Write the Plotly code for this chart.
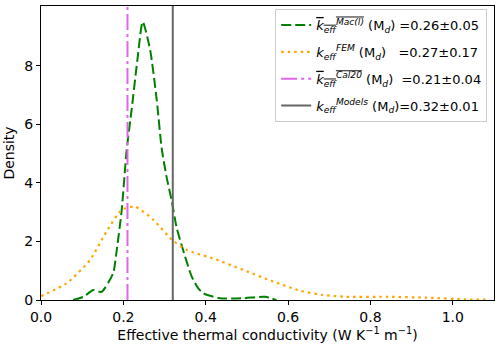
import plotly.graph_objects as go

# Data
mac_x = [0.078, 0.103, 0.127, 0.147, 0.175, 0.184, 0.196, 0.208, 0.220, 0.234, 0.247,
         0.265, 0.281, 0.293, 0.305, 0.317, 0.329, 0.345, 0.366, 0.382, 0.394, 0.434,
         0.491, 0.544, 0.572]
mac_y = [0.0, 0.11, 0.34, 0.28, 0.91, 1.71, 3.08, 5.13, 6.5, 8.2, 9.51,
         8.55, 6.84, 5.19, 4.2, 3.42, 2.5, 1.71, 0.80, 0.4, 0.23, 0.06,
         0.06, 0.11, 0.0]

fem_x = [0.0, 0.062, 0.119, 0.159, 0.196, 0.228, 0.273, 0.317, 0.354, 0.418, 0.491,
         0.564, 0.629, 0.685, 0.742, 0.839, 0.936, 1.033, 1.09]
fem_y = [0.13, 0.57, 1.37, 2.34, 3.08, 3.19, 2.74, 2.07, 1.71, 1.42, 1.03,
         0.63, 0.32, 0.17, 0.11, 0.11, 0.08, 0.02, 0.01]

cal20_mean = 0.21
models_mean = 0.32

x_range = [0.0, 1.1]
y_range = [0.0, 10.05]
x_ticks = [0.0, 0.2, 0.4, 0.6, 0.8, 1.0]
y_ticks = [0, 2, 4, 6, 8]

labels = [
    "<span style='text-decoration:overline'><i>k</i><sub><i>eff</i></sub><sup><i>Mac(l)</i></sup></span> (M<sub><i>d</i></sub>) =0.26±0.05",
    "<i>k</i><sub><i>eff</i></sub><sup><i>FEM</i></sup> (M<sub><i>d</i></sub>)&nbsp;&nbsp;&nbsp;=0.27±0.17",
    "<span style='text-decoration:overline'><i>k</i><sub><i>eff</i></sub><sup><i>Cal20</i></sup></span> (M<sub><i>d</i></sub>)&nbsp;&nbsp;=0.21±0.04",
    "<i>k</i><sub><i>eff</i></sub><sup><i>Models</i></sup> (M<sub><i>d</i></sub>)=0.32±0.01",
]

fig = go.Figure()
fig.add_trace(go.Scatter(x=mac_x, y=mac_y, mode="lines", name=labels[0], legendgroup="a",
                         line=dict(color="green", width=2, dash="10px,4px", shape="spline", smoothing=0.6)))
fig.add_trace(go.Scatter(x=fem_x, y=fem_y, mode="lines", name=labels[1], legendgroup="b",
                         line=dict(color="orange", width=2.2, dash="2.5px,4px", shape="spline", smoothing=0.6)))
fig.add_trace(go.Scatter(x=[cal20_mean, cal20_mean], y=y_range, mode="lines", name=labels[2], legendgroup="c",
                         line=dict(color="#E066E6", width=2, dash="16px,4px,3px,4px")))
fig.add_trace(go.Scatter(x=[models_mean, models_mean], y=y_range, mode="lines", name=labels[3], legendgroup="d",
                         line=dict(color="#666666", width=2)))

axis_common = dict(showgrid=False, zeroline=False, showline=True, linecolor="black",
                   linewidth=1, mirror=True, ticks="outside", ticklen=4, tickcolor="black",
                   tickfont=dict(size=14, color="black"), automargin=False)

fig.update_xaxes(range=x_range, tickvals=x_ticks, ticktext=[f"{v:.1f}" for v in x_ticks],
                 title=dict(text="Effective thermal conductivity (W K<sup>−1</sup> m<sup>−1</sup>)",
                            font=dict(size=14, color="black"), standoff=4),
                 **axis_common)
fig.update_yaxes(range=y_range, tickvals=y_ticks,
                 title=dict(text="Density", font=dict(size=14, color="black"), standoff=6),
                 **axis_common)

fig.update_layout(
    width=500, height=349,
    margin=dict(l=41, r=6, t=6, b=49),
    paper_bgcolor="white", plot_bgcolor="white",
    font=dict(family="DejaVu Sans", size=14, color="black"),
    legend=dict(x=0.985, y=0.99, xanchor="right", yanchor="top",
                bgcolor="rgba(255,255,255,0.8)", bordercolor="#cccccc", borderwidth=1,
                font=dict(size=13), tracegroupgap=7, itemwidth=30),
)

fig.write_html("out.html", post_script="document.body.style.margin='0';",
               config={"displayModeBar": False})
